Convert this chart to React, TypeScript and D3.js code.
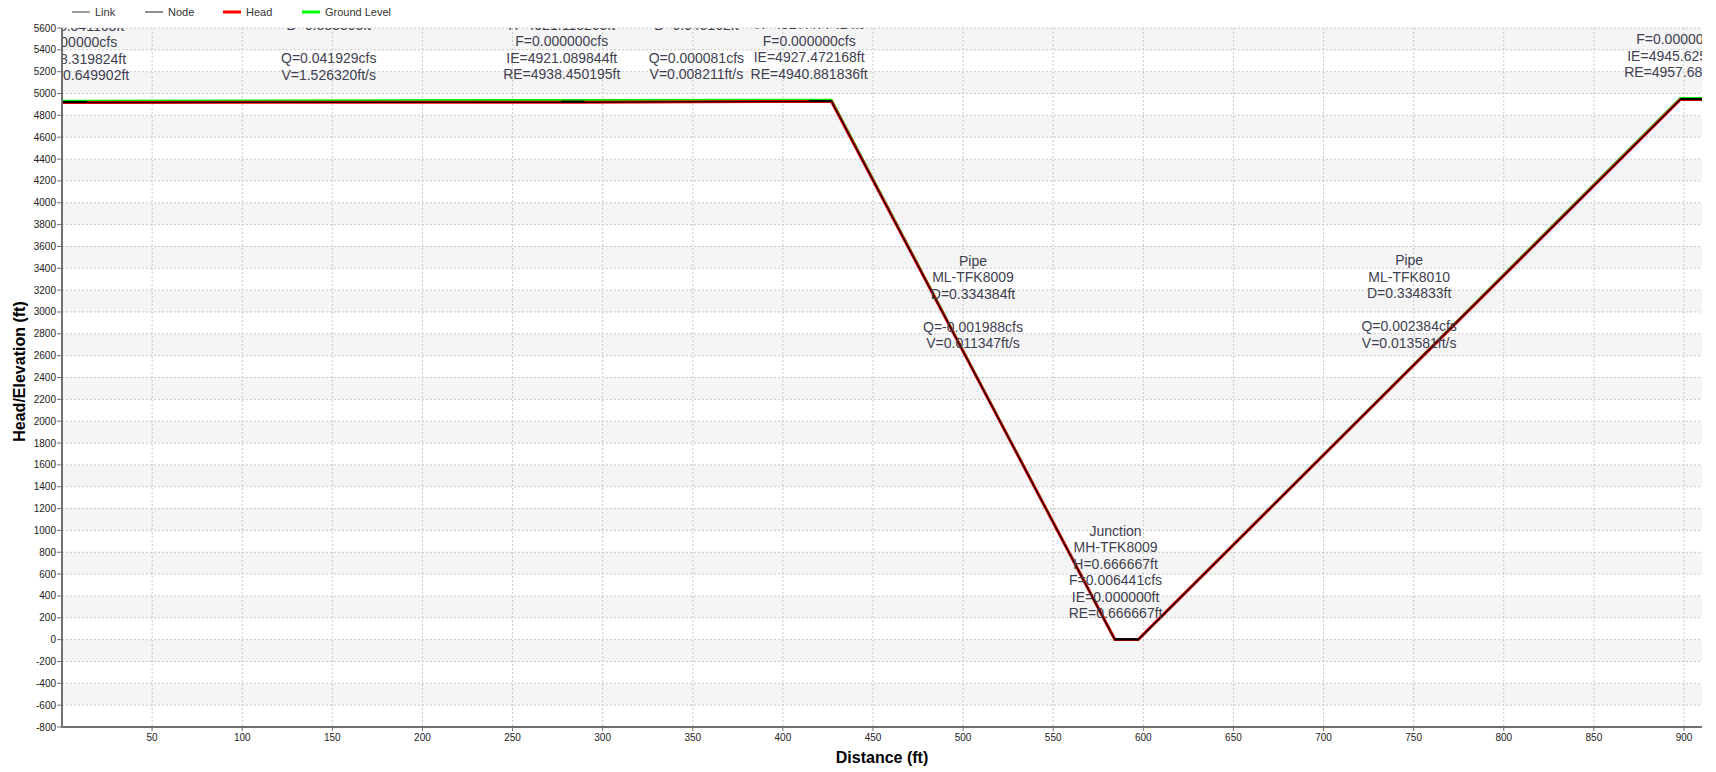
import React from 'react';
import * as d3 from 'd3';

// ---------- data ----------
const xTickValues = [50, 100, 150, 200, 250, 300, 350, 400, 450, 500, 550, 600, 650, 700, 750, 800, 850, 900];
const yTickValues = [-800, -600, -400, -200, 0, 200, 400, 600, 800, 1000, 1200, 1400, 1600, 1800, 2000, 2200, 2400, 2600, 2800, 3000, 3200, 3400, 3600, 3800, 4000, 4200, 4400, 4600, 4800, 5000, 5200, 5400, 5600];

const nodeStart = [0, 277, 414.6, 584.2, 898];
const nodeEnd = [14, 290, 427, 597.2, 910];
const nodeInvert = [4918.32, 4921.09, 4927.47, 0, 4945.63];
const nodeRim = [4930.65, 4938.45, 4940.88, 0.67, 4957.69];
const nodeHead = [4918.34, 4921.11, 4927.48, 0.67, 4945.65];

const labelX = [4.8, 148, 277.3, 352, 414.6, 505.5, 584.6, 747.5, 899.3];
const labelLines = [
  ['Junction', 'MH-TFK8006', 'H=4918.341163ft', 'F=0.000000cfs', 'IE=4918.319824ft', 'RE=4930.649902ft'],
  ['Pipe', 'ML-TFK8006', 'D=0.333303ft', '', 'Q=0.041929cfs', 'V=1.526320ft/s'],
  ['Junction', 'MH-TFK8007', 'H=4921.113205ft', 'F=0.000000cfs', 'IE=4921.089844ft', 'RE=4938.450195ft'],
  ['Pipe', 'ML-TFK8007', 'D=0.045162ft', '', 'Q=0.000081cfs', 'V=0.008211ft/s'],
  ['Junction', 'MH-TFK8008', 'H=4927.477424ft', 'F=0.000000cfs', 'IE=4927.472168ft', 'RE=4940.881836ft'],
  ['Pipe', 'ML-TFK8009', 'D=0.334384ft', '', 'Q=-0.001988cfs', 'V=0.011347ft/s'],
  ['Junction', 'MH-TFK8009', 'H=0.666667ft', 'F=0.006441cfs', 'IE=0.000000ft', 'RE=0.666667ft'],
  ['Pipe', 'ML-TFK8010', 'D=0.334833ft', '', 'Q=0.002384cfs', 'V=0.013581ft/s'],
  ['Junction', 'MH-TFK8010', 'H=4945.648438ft', 'F=0.000000cfs', 'IE=4945.625000ft', 'RE=4957.686035ft'],
];

const legendNames = ['Link', 'Node', 'Head', 'Ground Level'];

// ---------- layout ----------
const W = 1716;
const H = 772;
const left = 62;
const right = 1702;
const top = 28;
const bottom = 727;
const FONT = '"Liberation Sans", Arial, Helvetica, sans-serif';

export default function App() {
  const x = d3.scaleLinear().domain([0, 910]).range([left, right]);
  const y = d3.scaleLinear().domain([-800, 5600]).range([bottom, top]);

  const pts = (vals: number[]) => {
    const out: [number, number][] = [];
    nodeStart.forEach((s, i) => {
      out.push([s, vals[i]]);
      out.push([nodeEnd[i], vals[i]]);
    });
    return out;
  };
  const line = d3.line<[number, number]>().x(d => x(d[0])).y(d => y(d[1]));
  const groundPts = pts(nodeRim);
  const headPts = pts(nodeHead);
  const invPts = pts(nodeInvert);

  const interp = (p: [number, number][], xv: number) => {
    for (let i = 0; i < p.length - 1; i++) {
      if (xv >= p[i][0] && xv <= p[i + 1][0]) {
        const t = (xv - p[i][0]) / (p[i + 1][0] - p[i][0] || 1);
        return p[i][1] + t * (p[i + 1][1] - p[i][1]);
      }
    }
    return p[p.length - 1][1];
  };

  const bands = [];
  for (let i = 0; i < yTickValues.length - 1; i++) {
    const lo = yTickValues[i];
    const hi = yTickValues[i + 1];
    const idxFromTop = yTickValues.length - 2 - i;
    if (idxFromTop % 2 === 0) {
      bands.push(<rect key={'b' + i} x={left} y={y(hi)} width={right - left} height={y(lo) - y(hi)} fill="#f5f5f5" />);
    }
  }

  const legendX = [72, 145, 223, 302];
  const legendColor = ['#404040', '#202020', '#ff0000', '#00ff00'];
  const legendW = [1, 1, 3, 3];

  const lineH = 16.5;

  return (
    <svg width={W} height={H} style={{ position: 'absolute', left: 0, top: 0, background: '#fff' }} fontFamily={FONT}>
      <defs>
        <clipPath id="plotClip">
          <rect x={left} y={top} width={right - left} height={bottom - top} />
        </clipPath>
      </defs>
      <rect x={0} y={0} width={W} height={H} fill="#fff" />
      {bands}
      {/* grid */}
      {yTickValues.map(v => (
        <line key={'gy' + v} x1={left} x2={right} y1={y(v)} y2={y(v)} stroke="#c8c8c8" strokeDasharray="2,2" />
      ))}
      {xTickValues.map(v => (
        <line key={'gx' + v} x1={x(v)} x2={x(v)} y1={top} y2={bottom} stroke="#c8c8c8" strokeDasharray="2,2" />
      ))}

      {/* profile */}
      <g clipPath="url(#plotClip)">
        <path d={line(groundPts) || ''} fill="none" stroke="#00ee00" strokeWidth={2.5} />
        <path d={line(headPts) || ''} fill="none" stroke="#ff0000" strokeWidth={3} />
        <path d={line(invPts) || ''} fill="none" stroke="#2a0000" strokeWidth={1.5} />
        {nodeStart.map((s, i) => (
          <line key={'n' + i} x1={x(s)} x2={x(nodeEnd[i])} y1={y(nodeInvert[i]) - 0.5} y2={y(nodeInvert[i]) - 0.5} stroke="#000" strokeWidth={2} />
        ))}
        {labelX.map((lx, i) => {
          const baseY = y(interp(groundPts, lx)) - 26;
          const lines = labelLines[i];
          return (
            <g key={'l' + i}>
              {lines.map((t, j) => (
                <text key={j} x={x(lx)} y={baseY - (lines.length - 1 - j) * lineH} dy="0.35em" textAnchor="middle" fontSize={14} fill="#404050">
                  {t}
                </text>
              ))}
            </g>
          );
        })}
      </g>

      {/* axes */}
      <line x1={left} x2={left} y1={top} y2={bottom + 1} stroke="#707070" strokeWidth={2} />
      <line x1={left - 1} x2={right} y1={bottom} y2={bottom} stroke="#707070" strokeWidth={2} />
      {yTickValues.map(v => (
        <g key={'ty' + v}>
          <line x1={left - 5} x2={left} y1={y(v)} y2={y(v)} stroke="#707070" />
          <text x={left - 6} y={y(v)} dy="0.35em" textAnchor="end" fontSize={10} fill="#222">{v}</text>
        </g>
      ))}
      {xTickValues.map(v => (
        <g key={'tx' + v}>
          <line x1={x(v)} x2={x(v)} y1={bottom} y2={bottom + 4} stroke="#707070" />
          <text x={x(v)} y={bottom + 10} dy="0.35em" textAnchor="middle" fontSize={10} fill="#222">{v}</text>
        </g>
      ))}
      <text x={(left + right) / 2} y={757} dy="0.35em" textAnchor="middle" fontSize={16} fontWeight="bold" fill="#000">Distance (ft)</text>
      <text transform={`translate(19,${(top + bottom) / 2 - 6}) rotate(-90)`} dy="0.35em" textAnchor="middle" fontSize={16} fontWeight="bold" fill="#000">Head/Elevation (ft)</text>

      {/* legend */}
      {legendNames.map((n, i) => (
        <g key={'lg' + i}>
          <line x1={legendX[i]} x2={legendX[i] + 18} y1={12} y2={12} stroke={legendColor[i]} strokeWidth={legendW[i]} />
          <text x={legendX[i] + 23} y={12} dy="0.35em" fontSize={11} fill="#333">{n}</text>
        </g>
      ))}
    </svg>
  );
}
